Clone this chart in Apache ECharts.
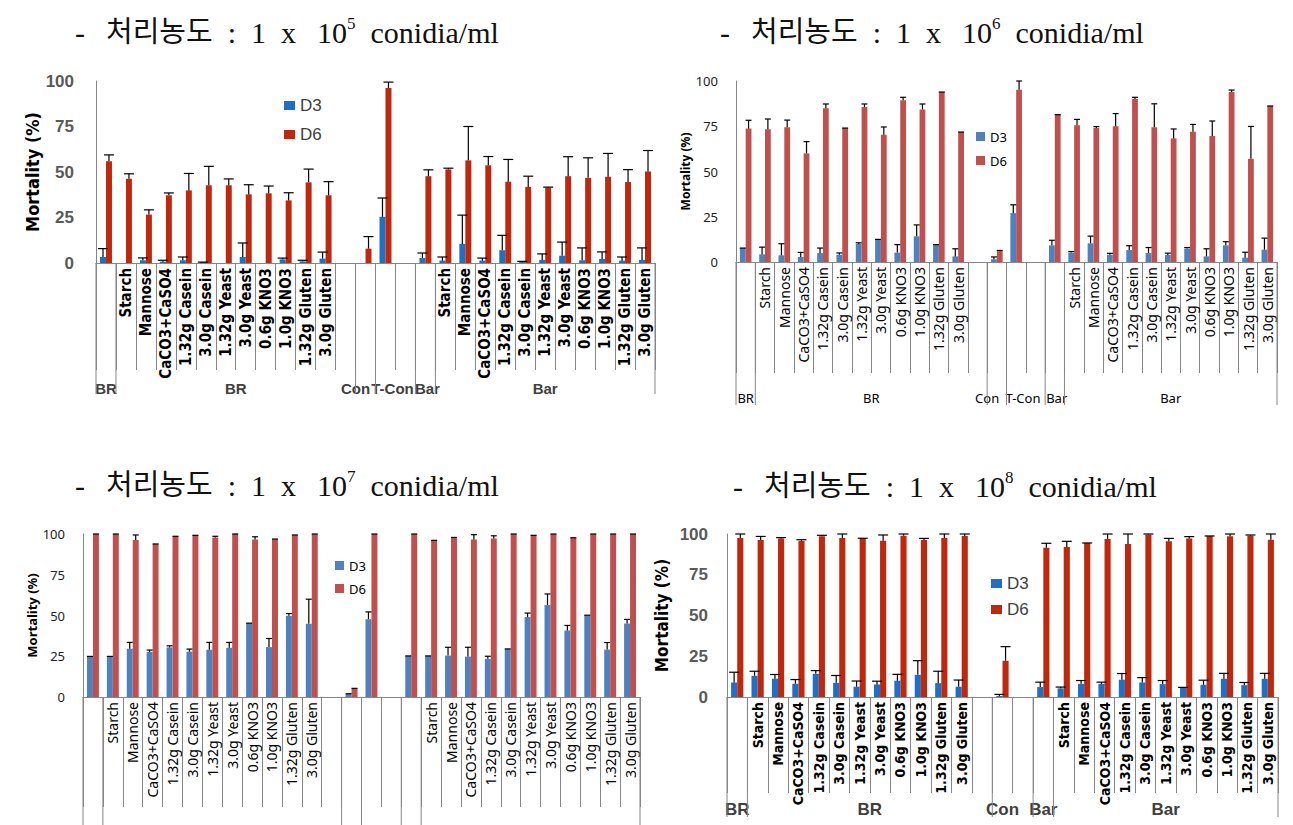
<!DOCTYPE html>
<html><head><meta charset="utf-8">
<script src="https://cdn.jsdelivr.net/npm/echarts@6/dist/echarts.min.js"></script>
<style>html,body{margin:0;padding:0;background:#fff}#c{width:1293px;height:825px}</style>
</head><body><div id="c"></div>
<script>
// ---------- categories ----------
const treatments = ['', 'Starch', 'Mannose', 'CaCO3+CaSO4', '1.32g Casein', '3.0g Casein', '1.32g Yeast', '3.0g Yeast', '0.6g KNO3', '1.0g KNO3', '1.32g Gluten', '3.0g Gluten'];
const catsFull = treatments.concat(['', '', '', '']).concat(treatments);   // BR | gap | Con | T-Con | gap | Bar
const catsNoTCon = treatments.concat(['', '', '']).concat(treatments);     // BR | gap | Con | gap | Bar
// level-2 group labels: [position in category units, label]
const groupsFull = [[0.5, 'BR'], [7, 'BR'], [13, 'Con'], [14.85, 'T-Con'], [16.6, 'Bar'], [22.5, 'Bar']];
const groupsNoTCon = [[0.5, 'BR'], [7, 'BR'], [13.5, 'Con'], [15.5, 'Bar'], [21.5, 'Bar']];
const groupsCropped = [];  // 10^7 panel: group labels fall below the cropped picture
// level-2 group boundaries (category units)
const boundsFull = [0, 1, 13, 14, 16, 17, 28];
const boundsNoTCon = [0, 1, 13, 15, 16, 27];
const exponents = ['5', '6', '7', '8'];
const yTickValues = [0, 25, 50, 75, 100];

// ---------- 1 x 10^5 ----------
const p1D3 = [3.3, null, 1.5, 0.7, 1.5, 0.5, null, 3.3, null, 2, 0.9, 2.4, null, null, 25.4, null, 2.7, 1.3, 10.5, 1.3, 7, 0.6, 1.7, 4, 1.5, 2.2, 1.3, 1.7];
const p1E3 = [4.6, null, 1.3, 0.8, 1.8, 0, null, 7.7, null, 0.7, 0.6, 3.6, null, null, 10.3, null, 2.8, 2, 15.8, 1.4, 8.2, 0.3, 3.3, 7.5, 6.8, 3.9, 2, 6.6];
const p1D6 = [55.9, 46.3, 26.6, 37.2, 39.9, 42.7, 42.7, 37.7, 38.3, 34.4, 44.3, 37.2, null, 7.9, 96.1, null, 47.7, 51.4, 56.4, 53.7, 44.7, 41.8, 41.4, 47.7, 46.8, 47.4, 44.5, 50.3];
const p1E6 = [3.5, 2.7, 2.6, 1.3, 9.3, 10.4, 3.5, 5.3, 4, 4.2, 7.3, 7.5, null, 6.6, 3.3, null, 3.5, 0.7, 18.6, 4.8, 12.2, 5.9, 0.3, 10.7, 11, 12.8, 6.8, 11.5];
// ---------- 1 x 10^6 ----------
const p2D3 = [7.7, 4.2, 3.7, 2.8, 5, 4, 10, 12.5, 5.2, 14.2, 9.6, 3.1, null, 1.5, 27, null, 9.2, 5.2, 10.3, 4, 6.6, 5, 3.9, 7.4, 3.1, 9.2, 2.4, 6.8];
const p2E3 = [0, 4, 6.4, 2.5, 2.7, 1, 0.6, 0, 4.4, 6.3, 0, 4.2, null, 1.3, 4.6, null, 2.8, 0.6, 4, 0.8, 2.4, 3, 1, 0.6, 4.2, 2, 3, 6.4];
const p2D6 = [73.7, 73.3, 74.4, 60, 85, 74, 85.6, 70.3, 89.3, 84.3, 93.9, 71.8, null, 6.4, 95.2, null, 81.4, 75.5, 74, 75, 90, 74.4, 68.3, 72, 69.6, 93.9, 57, 86.2];
const p2E6 = [4.6, 5.7, 4, 6.5, 2.3, 0, 1.7, 4.3, 1.7, 3, 0, 0, null, 0, 4.8, null, 0, 3.3, 0.8, 7, 1, 13, 5.2, 4, 8.3, 1.1, 17.9, 0];
// ---------- 1 x 10^7 ----------
const p3D3 = [24.9, 24.9, 29.6, 27.6, 30.4, 27.8, 29, 30.2, 45.3, 30.6, 49.8, 44.9, null, 2, 47.7, null, 25.2, 25.2, 25.4, 24.8, 23.4, 29.5, 49, 56.4, 40.8, 50.2, 29.1, 45.1];
const p3E3 = [0, 0, 3.9, 1.2, 1, 1.6, 4.5, 3.3, 0, 5.3, 1.4, 15.1, null, 0, 4.5, null, 0, 0, 5.1, 5.7, 1.6, 0, 2.5, 6.8, 3.1, 0, 4.3, 2.5];
const p3D6 = [100, 100, 96.3, 93.9, 98.6, 99.2, 97.8, 100, 96.7, 96.9, 99.4, 100, null, 5.3, 100, null, 100, 96.1, 97.9, 96.7, 97.3, 100, 99.2, 100, 97.7, 100, 100, 100];
const p3E6 = [0, 0, 3.1, 0, 0, 0, 0.8, 0, 1.6, 0, 0, 0, null, 0, 0, null, 0, 0, 0, 2.9, 1.6, 0, 0, 0, 0, 0, 0, 0];
// ---------- 1 x 10^8 ----------
const p4D3 = [8.9, 13, 11.2, 8.1, 14.2, 8.7, 6.3, 7.7, 10, 13.6, 8.5, 6.3, null, 0.6, null, 6.1, 5.3, 8.1, 8.1, 10.6, 8.9, 7.9, 5.9, 7.5, 11.2, 7.3, 11.2];
const p4E3 = [6.3, 2.8, 2.6, 2.6, 2, 4.5, 3.5, 2, 3.9, 8.7, 7.3, 4.1, null, 1, null, 3, 0.8, 2, 1, 3.8, 3, 2.2, 0, 2.8, 3.3, 1.6, 3.3];
const p4D6 = [97.6, 96.3, 97.2, 95.7, 98.6, 97.6, 97.4, 95.9, 99, 96.3, 97.6, 98.8, null, 22.2, null, 91.5, 92.1, 94.5, 97, 93.9, 99.6, 95.5, 97.2, 98.8, 98.6, 99, 96.5];
const p4E6 = [2.4, 2.2, 0.6, 0.8, 0.6, 2.4, 0, 3.5, 1, 1, 2.4, 1.2, null, 8.7, null, 2.8, 3.4, 0, 3, 6.1, 0.4, 1.8, 1.2, 0, 1.4, 0.4, 3.5];

// ---------- styles ----------
const NARROW = '"Liberation Sans Narrow", "Arial Narrow", "DejaVu Sans Condensed", "Liberation Sans", sans-serif';
const ARIAL = '"Liberation Sans", Arial, sans-serif';
const NOTO = '"Noto Sans", "Noto Sans CJK KR", sans-serif';
const SERIF = '"Liberation Serif", "DejaVu Serif", "Noto Sans CJK KR", serif';
const AXIS = '#868686';

const boldStyle = {
  colors: ['#1F6FC5', '#C0280E'],
  cat: {fontFamily: NARROW, fontWeight: 'bold', fontSize: 15, color: '#000'},
  tick: {fontFamily: ARIAL, fontWeight: 'bold', fontSize: 17, color: '#595959'},
  name: {fontFamily: NARROW, fontWeight: 'bold', fontSize: 18, color: '#000'},
  legend: {fontFamily: ARIAL, fontSize: 17, color: '#404040'},
  grp: {fontFamily: ARIAL, fontWeight: 'bold', fontSize: 17, color: '#404040'},
  icon: [11, 9],
  cap: 10
};
const regStyle = {
  colors: ['#4F81BD', '#C0504D'],
  cat: {fontFamily: NOTO, fontSize: 14, color: '#000'},
  tick: {fontFamily: NOTO, fontSize: 13, color: '#222'},
  name: {fontFamily: NOTO, fontWeight: 'bold', fontSize: 12, color: '#000'},
  legend: {fontFamily: NOTO, fontSize: 13, color: '#000'},
  grp: {fontFamily: NOTO, fontSize: 13, color: '#000'},
  icon: [9, 9],
  cap: 6
};

const panels = [
  {d3: p1D3, e3: p1E3, d6: p1D6, e6: p1E6, cats: catsFull, groups: groupsFull, bounds: boundsFull, exp: exponents[0],
   st: Object.assign({}, boldStyle, {grp: Object.assign({}, boldStyle.grp, {fontSize: 15})}),
   grid: {left: 96, top: 81, width: 559, height: 182}, title: {left: 70, top: 10}, legend: {left: 279, top: 92, itemGap: 12},
   L1: 107, L2: 131, m2: 118, tickMargin: 22, nameGap: 53},
  {d3: p2D3, e3: p2E3, d6: p2D6, e6: p2E6, cats: catsFull, groups: groupsFull, bounds: boundsFull, exp: exponents[1], st: regStyle,
   grid: {left: 736, top: 81, width: 541, height: 181}, title: {left: 715, top: 10}, legend: {left: 971, top: 125, itemGap: 11},
   L1: 111, L2: 143, m2: 129, tickMargin: 18, nameGap: 42},
  {d3: p3D3, e3: p3E3, d6: p3D6, e6: p3E6, cats: catsFull, groups: groupsCropped, bounds: boundsFull, exp: exponents[2], st: Object.assign({}, regStyle, {name: Object.assign({}, regStyle.name, {fontSize: 13})}),
   grid: {left: 83, top: 534, width: 557, height: 163}, title: {left: 70, top: 463}, legend: {left: 330, top: 554, itemGap: 10},
   L1: 110, L2: 150, m2: 142, tickMargin: 18, nameGap: 45},
  {d3: p4D3, e3: p4E3, d6: p4D6, e6: p4E6, cats: catsNoTCon, groups: groupsNoTCon, bounds: boundsNoTCon, exp: exponents[3], st: Object.assign({}, boldStyle, {cat: Object.assign({}, boldStyle.cat, {fontSize: 14}), name: Object.assign({}, boldStyle.name, {fontSize: 17})}),
   grid: {left: 727, top: 534, width: 551, height: 163}, title: {left: 728, top: 464}, legend: {left: 986, top: 570, itemGap: 9},
   L1: 96, L2: 120, m2: 104, tickMargin: 19, nameGap: 57}
];

function errRender(sign, cap) {
  return function (params, api) {
    const v = api.value(1), e = api.value(2);
    if (v == null || isNaN(v)) return null;
    const i = api.value(0);
    const band = api.size([1, 0])[0];
    const off = sign * band * 0.3 / 2;
    const p0 = api.coord([i, v]);
    const p1 = api.coord([i, Math.min(v + (isNaN(e) ? 0 : e), 100)]);
    const x = p0[0] + off;
    const st = {stroke: '#000', lineWidth: 1.2};
    return {type: 'group', children: [
      {type: 'line', shape: {x1: x, y1: p0[1], x2: x, y2: p1[1]}, style: st},
      {type: 'line', shape: {x1: x - cap / 2, y1: p1[1], x2: x + cap / 2, y2: p1[1]}, style: st}
    ]};
  };
}

const option = {backgroundColor: '#fff', animation: false, title: [], grid: [], xAxis: [], yAxis: [], legend: [], series: []};

panels.forEach((p, k) => {
  const st = p.st;
  const n = p.cats.length;
  option.title.push({
    left: p.title.left, top: p.title.top,
    text: '-\u2002\u2009{k|처리농도}\u2002:\u20021\u2002x\u2002\u200910{s|' + p.exp + '}\u2002conidia/ml',
    textStyle: {fontFamily: SERIF, fontSize: 30, fontWeight: 'normal', color: '#111', lineHeight: 34,
      rich: {k: {fontFamily: SERIF, fontSize: 29, color: '#111', lineHeight: 34},
             s: {fontFamily: SERIF, fontSize: 17, color: '#111', verticalAlign: 'top', lineHeight: 20}}}
  });
  option.grid.push(Object.assign({outerBoundsMode: 'none', containLabel: false}, p.grid));
  const xa = option.xAxis.length;
  option.xAxis.push({
    type: 'category', gridIndex: k, data: p.cats, boundaryGap: true,
    axisLine: {show: true, lineStyle: {color: AXIS, width: 1}},
    axisTick: {show: true, interval: 0, length: p.L1, lineStyle: {color: AXIS, width: 1}},
    axisLabel: Object.assign({interval: 0, rotate: 90, margin: 5}, st.cat),
    splitLine: {show: false}
  });
  const groupMap = {};
  p.groups.forEach(g => { groupMap[g[0].toFixed(2)] = g[1]; });
  const xb = option.xAxis.length;
  // tick every 0.05 category so group labels can sit at any of the positions above
  option.xAxis.push({
    type: 'value', gridIndex: k, min: 0, max: n, interval: 0.05, position: 'bottom', offset: 0,
    axisLine: {show: false}, axisTick: {show: false}, splitLine: {show: false},
    axisLabel: Object.assign({margin: p.m2, showMinLabel: true, showMaxLabel: true, hideOverlap: false,
      formatter: v => groupMap[Number(v).toFixed(2)] || ''}, st.grp)
  });
  option.yAxis.push({
    type: 'value', gridIndex: k, min: yTickValues[0], max: yTickValues[yTickValues.length - 1], interval: yTickValues[1] - yTickValues[0],
    name: 'Mortality (%)', nameLocation: 'middle', nameGap: p.nameGap, nameRotate: 90, nameTextStyle: st.name,
    axisLine: {show: true, lineStyle: {color: AXIS, width: 1}},
    axisTick: {show: false}, splitLine: {show: false},
    axisLabel: Object.assign({margin: p.tickMargin}, st.tick)
  });
  option.legend.push({
    orient: 'vertical', left: p.legend.left, top: p.legend.top, itemGap: p.legend.itemGap,
    icon: 'rect', itemWidth: st.icon[0], itemHeight: st.icon[1],
    textStyle: st.legend, selectedMode: false,
    data: [{name: 'D3', itemStyle: {color: st.colors[0]}}, {name: 'D6', itemStyle: {color: st.colors[1]}}]
  });
  const bar = (name, data, color) => ({
    type: 'bar', name: name, xAxisIndex: xa, yAxisIndex: k, data: data,
    barWidth: '30%', barGap: '0%', itemStyle: {color: color}, z: 2
  });
  option.series.push(bar('D3', p.d3, st.colors[0]));
  option.series.push(bar('D6', p.d6, st.colors[1]));
  option.series.push({type: 'custom', name: 'errD3', xAxisIndex: xa, yAxisIndex: k, z: 3, clip: false,
    renderItem: errRender(-1, st.cap), data: p.d3.map((v, i) => [i, v == null ? NaN : v, p.e3[i] == null ? NaN : p.e3[i]])});
  option.series.push({type: 'custom', name: 'errD6', xAxisIndex: xa, yAxisIndex: k, z: 3, clip: false,
    renderItem: errRender(1, st.cap), data: p.d6.map((v, i) => [i, v == null ? NaN : v, p.e6[i] == null ? NaN : p.e6[i]])});
  const L2 = p.L2;
  option.series.push({type: 'custom', name: 'sep', xAxisIndex: xb, yAxisIndex: k, z: 1, clip: false, silent: true,
    renderItem: (params, api) => {
      const q = api.coord([api.value(0), 0]);
      return {type: 'line', shape: {x1: q[0], y1: q[1], x2: q[0], y2: q[1] + L2}, style: {stroke: AXIS, lineWidth: 1}};
    },
    data: p.bounds.map(b => [b, 0])});
});

const chart = echarts.init(document.getElementById('c'), null, {renderer: 'svg', width: 1293, height: 825});
chart.setOption(option);
</script>
</body></html>
